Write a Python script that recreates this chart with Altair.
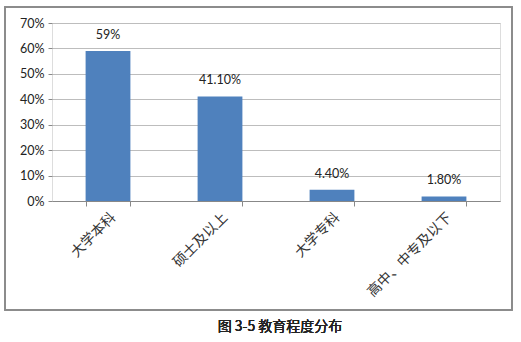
import altair as alt
import pandas as pd

categories = ["大学本科", "硕士及以上", "大学专科", "高中、中专及以下"]
values = [0.59, 0.411, 0.044, 0.018]
labels = ["59%", "41.10%", "4.40%", "1.80%"]
y_ticks = [0, 0.1, 0.2, 0.3, 0.4, 0.5, 0.6, 0.7]

df = pd.DataFrame({"cat": categories, "val": values, "lab": labels})

W, H = 448, 178

x = alt.X("cat:N", sort=categories, title=None,
          scale=alt.Scale(paddingInner=0.6, paddingOuter=0.3),
          axis=alt.Axis(labelAngle=-45, labelFont="Noto Sans CJK SC", labelFontSize=14,
                        labelColor="#333", domainColor="#888", tickColor="#888",
                        tickBand="extent", tickSize=5, labelPadding=4, grid=False))
y = alt.Y("val:Q", title=None,
          scale=alt.Scale(domain=[0, 0.7]),
          axis=alt.Axis(format=".0%", values=y_ticks, labelOverlap=False, tickCount=8,
                        labelFont="Lato", labelFontSize=12.5, labelColor="#222",
                        domain=False, ticks=True, tickSize=4, tickColor="#888",
                        gridColor="#bdbdbd", labelPadding=4))

base = alt.Chart(df)
bars = base.mark_bar(color="#4F81BD").encode(x=x, y=y)
text = base.mark_text(dy=-9, baseline="bottom", font="Lato", fontSize=12.5, color="#222").encode(
    x=x, y=y, text="lab:N")
border = base.mark_rect(filled=False, stroke="#8c8c8c", strokeWidth=1.5, clip=False).encode(
    x=alt.value(-47), x2=alt.value(460), y=alt.value(-16), y2=alt.value(287))
title = base.mark_text(font="Noto Sans CJK SC", fontSize=14, fontWeight="normal", color="#222",
                       clip=False).encode(
    x=alt.value(228), y=alt.value(304), text=alt.value("图 3-5 教育程度分布"))

chart = alt.layer(border, bars, text, title).properties(
    width=W, height=H,
    autosize=alt.AutoSizeParams(type="none"),
    padding={"left": 52, "top": 23, "right": 21, "bottom": 141},
).configure_view(stroke=None).configure(background="white")

chart.save("out.html", embed_options={"renderer": "svg", "actions": False})
